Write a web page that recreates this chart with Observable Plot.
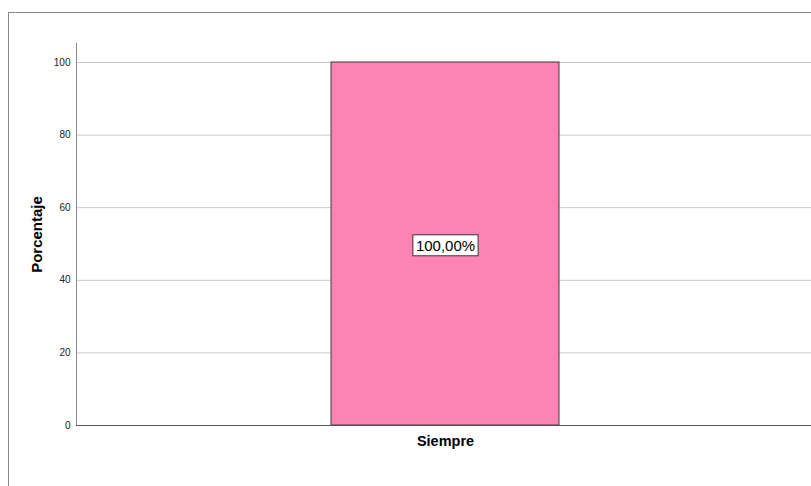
<!DOCTYPE html>
<html>
<head>
<meta charset="utf-8">
<script src="https://cdn.jsdelivr.net/npm/d3@7"></script>
<script src="https://cdn.jsdelivr.net/npm/@observablehq/plot@0.6"></script>
<style>
  body { margin: 0; background: #fff; }
  #wrap { position: relative; width: 811px; height: 486px; overflow: hidden; }
  #border { position: absolute; left: 8px; top: 12px; width: 820px; height: 500px;
            border-top: 1px solid #8a8a8a; border-left: 1px solid #8a8a8a; pointer-events: none; }
  #chart { position: absolute; left: 0; top: 0; }
  #chart svg { font-family: Arial, "Liberation Sans", sans-serif; }
</style>
</head>
<body>
<div id="wrap"><div id="chart"></div><div id="border"></div></div>
<script>
const categories = ["Siempre"];
const percentages = [100];
const valueLabels = ["100,00%"];
const yTicks = [0, 20, 40, 60, 80, 100];

const data = categories.map((c, i) => ({category: c, value: percentages[i], label: valueLabels[i]}));

const chart = Plot.plot({
  width: 811,
  height: 486,
  marginLeft: 76,
  marginRight: 0,
  marginTop: 43,
  marginBottom: 61,
  style: {fontFamily: "Arial, 'Liberation Sans', sans-serif", background: "transparent"},
  x: {domain: categories, padding: 0.525, align: 0.504, label: null},
  y: {domain: [0, 105.23], label: null},
  marks: [
    Plot.ruleY(yTicks.filter(t => t > 0), {stroke: "#c9c9c9", strokeWidth: 1}),
    Plot.barY(data, {x: "category", y: "value", fill: "#fd83b4", stroke: "#3c3c3c", strokeWidth: 1}),
    Plot.text(data, {x: "category", y: d => d.value / 2, text: "label", fontSize: 15, fill: "#000", dy: 2}),
    Plot.axisY({ticks: yTicks, tickSize: 0, tickPadding: 6, fontSize: 10, fill: "#222", label: null}),
    Plot.axisX({tickSize: 0, tickPadding: 10, fontSize: 14.5, fontWeight: "bold", fill: "#000", label: null}),
    Plot.frame({anchor: "left", stroke: "#8a8a8a"}),
    Plot.ruleY([0], {stroke: "#555", strokeWidth: 1}),
    Plot.text(["Porcentaje"], {frameAnchor: "left", dx: -39, rotate: -90, textAnchor: "middle", fontSize: 15, fontWeight: "bold", fill: "#000"})
  ]
});
document.getElementById("chart").appendChild(chart);

// white boxed background behind the value labels
const svg = d3.select(chart);
svg.selectAll('g[aria-label="text"]').filter(function(d, i) { return i === 0; }).selectAll("text").each(function() {
  const bb = this.getBBox();
  d3.select(this.parentNode).insert("rect", () => this)
    .attr("transform", this.getAttribute("transform"))
    .attr("x", bb.x - 3).attr("y", bb.y - 2)
    .attr("width", bb.width + 6).attr("height", bb.height + 4)
    .attr("fill", "#fff").attr("stroke", "#333").attr("stroke-width", 1);
});
</script>
</body>
</html>
